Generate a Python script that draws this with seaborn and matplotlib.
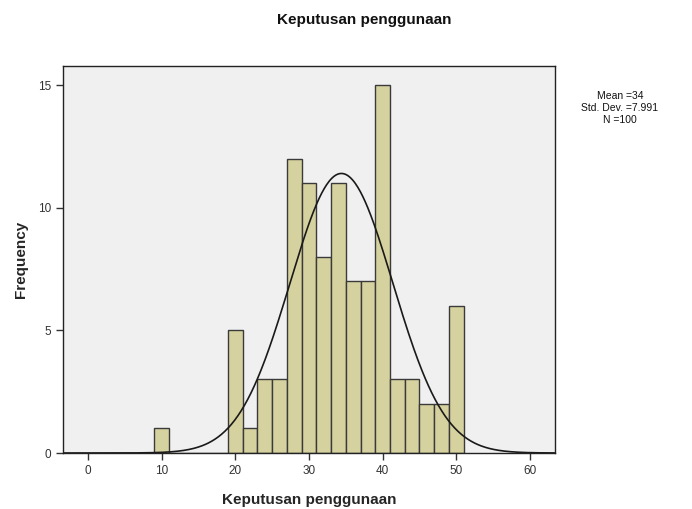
import numpy as np
import pandas as pd
import matplotlib
matplotlib.use("Agg")
import matplotlib.pyplot as plt
import seaborn as sns

# Data
bin_centers = [10, 12, 14, 16, 18, 20, 22, 24, 26, 28, 30, 32, 34, 36, 38, 40, 42, 44, 46, 48, 50]
counts      = [1, 0, 0, 0, 0, 5, 1, 3, 3, 12, 11, 8, 11, 7, 7, 15, 3, 3, 2, 2, 6]
bin_width = 2
x_ticks = [0, 10, 20, 30, 40, 50, 60]
y_ticks = [0, 5, 10, 15]
stats_text = ["Mean =34", "Std. Dev. =7.991", "N =100"]
curve_mean = 34.4
curve_sd = 7.0
n_total = 100

sns.set_style("white")
plt.rcParams['font.family'] = ['Liberation Sans', 'DejaVu Sans']

df = pd.DataFrame({"value": bin_centers, "count": counts})
lo = min(bin_centers) - bin_width / 2
hi = max(bin_centers) + bin_width / 2

fig = plt.figure(figsize=(6.92, 5.09), dpi=100)
ax = fig.add_axes([63 / 692, 1 - 453 / 509, (555 - 63) / 692, (453 - 66) / 509])
ax.set_facecolor("#f0f0f0")

sns.histplot(data=df, x="value", weights="count", binwidth=bin_width, binrange=(lo, hi), ax=ax,
             color="#d6d29f", edgecolor="#3a3a3a", linewidth=1.0, alpha=1.0)

xlim = (-3.4, 63.4)
xs = np.linspace(xlim[0], xlim[1], 600)
ys = n_total * bin_width * np.exp(-0.5 * ((xs - curve_mean) / curve_sd) ** 2) / (curve_sd * np.sqrt(2 * np.pi))
sns.lineplot(x=xs, y=ys, ax=ax, color="#1a1a1a", linewidth=1.2)

ax.set_xlim(*xlim)
ax.set_ylim(0, 15.78)
ax.set_xticks(x_ticks)
ax.set_yticks(y_ticks)
ax.tick_params(axis="both", which="both", length=5, width=1, color="#333333",
               labelsize=8.5, labelcolor="#333333", direction="out",
               bottom=True, left=True)
for s in ax.spines.values():
    s.set_color("#222222")
    s.set_linewidth(1.0)
    s.set_visible(True)

ax.set_xlabel("Keputusan penggunaan", fontsize=11, fontweight="bold", labelpad=12)
ax.set_ylabel("Frequency", fontsize=11, fontweight="bold", labelpad=7)

fig.text(364 / 692, 1 - 20 / 509, "Keputusan penggunaan", ha="center", va="center",
         fontsize=11, fontweight="bold", color="#111111")
for i, t in enumerate(stats_text):
    fig.text(620 / 692, 1 - (96 + i * 12) / 509, t, ha="center", va="center",
             fontsize=7.5, color="#111111")

fig.savefig("out.png", dpi=100)
